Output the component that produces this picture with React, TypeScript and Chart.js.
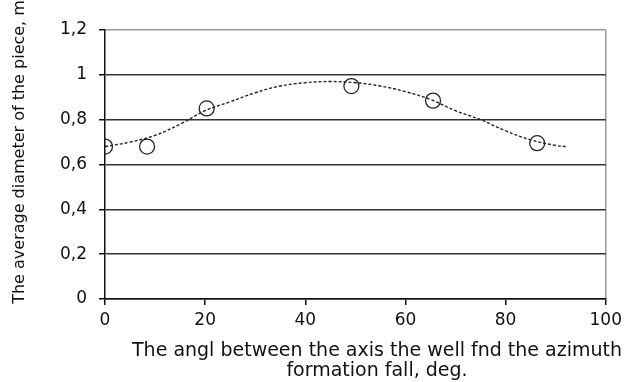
import React, { useEffect, useRef } from "react";
import { Chart, registerables } from "chart.js";

Chart.register(...registerables);

const pointX = [0, 8.4, 20.3, 49.2, 65.5, 86.3];
const pointY = [0.68, 0.68, 0.85, 0.95, 0.885, 0.695];

const trendX = [0, 5, 10, 15, 20, 25, 30, 35, 40, 45, 50, 55, 60, 65, 70, 75, 80, 85, 90, 92];
const trendY = [0.68, 0.7, 0.73, 0.78, 0.84, 0.88, 0.92, 0.95, 0.965, 0.97, 0.965, 0.95, 0.925, 0.89, 0.84, 0.8, 0.75, 0.71, 0.685, 0.68];

const yTickLabels = ["0", "0,2", "0,4", "0,6", "0,8", "1", "1,2"];
const xTickLabels = ["0", "20", "40", "60", "80", "100"];

const xTitle = ["The angl between the axis the well fnd the azimuth", "formation fall, deg."];
const yTitle = "The average diameter of the piece, m";

const FONT = "'DejaVu Sans', 'Liberation Sans', Arial, sans-serif";

export default function App() {
  const ref = useRef<HTMLCanvasElement | null>(null);

  useEffect(() => {
    const canvas = ref.current;
    if (!canvas) return;

    const titlePlugin = {
      id: "customTitles",
      afterDraw(chart: any) {
        const ctx = chart.ctx;
        ctx.save();
        ctx.fillStyle = "#111";
        ctx.textAlign = "center";
        ctx.textBaseline = "middle";
        ctx.font = `19px ${FONT}`;
        ctx.fillText(xTitle[0], 377, 351);
        ctx.fillText(xTitle[1], 377, 371);
        ctx.font = `16px ${FONT}`;
        ctx.translate(20, 152);
        ctx.rotate(-Math.PI / 2);
        ctx.fillText(yTitle, 0, 0);
        ctx.restore();
      },
    };

    const chart = new Chart(canvas, {
      type: "scatter",
      data: {
        datasets: [
          {
            type: "line",
            label: "trend",
            data: trendX.map((x, i) => ({ x, y: trendY[i] })),
            borderColor: "#222",
            borderWidth: 1.4,
            borderDash: [3, 2],
            pointRadius: 0,
            tension: 0.4,
            fill: false,
            order: 1,
          },
          {
            label: "points",
            data: pointX.map((x, i) => ({ x, y: pointY[i] })),
            pointRadius: 7.5,
            pointBorderColor: "#222",
            pointBackgroundColor: "rgba(0,0,0,0)",
            pointBorderWidth: 1.3,
            showLine: false,
            order: 2,
          },
        ],
      },
      options: {
        animation: false,
        responsive: false,
        maintainAspectRatio: false,
        layout: { padding: { left: 0, right: 20, top: 30, bottom: 0 } },
        plugins: { legend: { display: false }, tooltip: { enabled: false } },
        scales: {
          x: {
            type: "linear",
            min: 0,
            max: 100,
            afterFit(scale: any) {
              scale.height = 83;
            },
            ticks: {
              stepSize: 20,
              color: "#111",
              font: { family: FONT, size: 17 },
              padding: 5,
              callback: (_v: any, i: number) => xTickLabels[i],
            },
            grid: {
              drawOnChartArea: true,
              color: (c: any) => (c.tick && c.tick.value === 100 ? "#999" : "rgba(0,0,0,0)"),
              tickColor: "#111",
              tickLength: 6,
              lineWidth: 1.5,
            },
            border: { color: "#111", width: 1.5 },
          },
          y: {
            min: 0,
            max: 1.2,
            afterFit(scale: any) {
              scale.width = 105;
            },
            ticks: {
              stepSize: 0.2,
              color: "#111",
              font: { family: FONT, size: 17 },
              padding: 12,
              callback: (_v: any, i: number) => yTickLabels[i],
            },
            grid: {
              color: (c: any) => (c.tick && Math.abs(c.tick.value - 1.2) < 1e-6 ? "#999" : "#333"),
              tickColor: "#111",
              tickLength: 6,
              lineWidth: 1.5,
            },
            border: { color: "#111", width: 1.5 },
          },
        },
      },
      plugins: [titlePlugin],
    });

    return () => chart.destroy();
  }, []);

  return (
    <div style={{ position: "fixed", left: 0, top: 0, width: 627, height: 382, background: "#fff" }}>
      <canvas ref={ref} width={627} height={382} style={{ width: 627, height: 382 }} />
    </div>
  );
}
